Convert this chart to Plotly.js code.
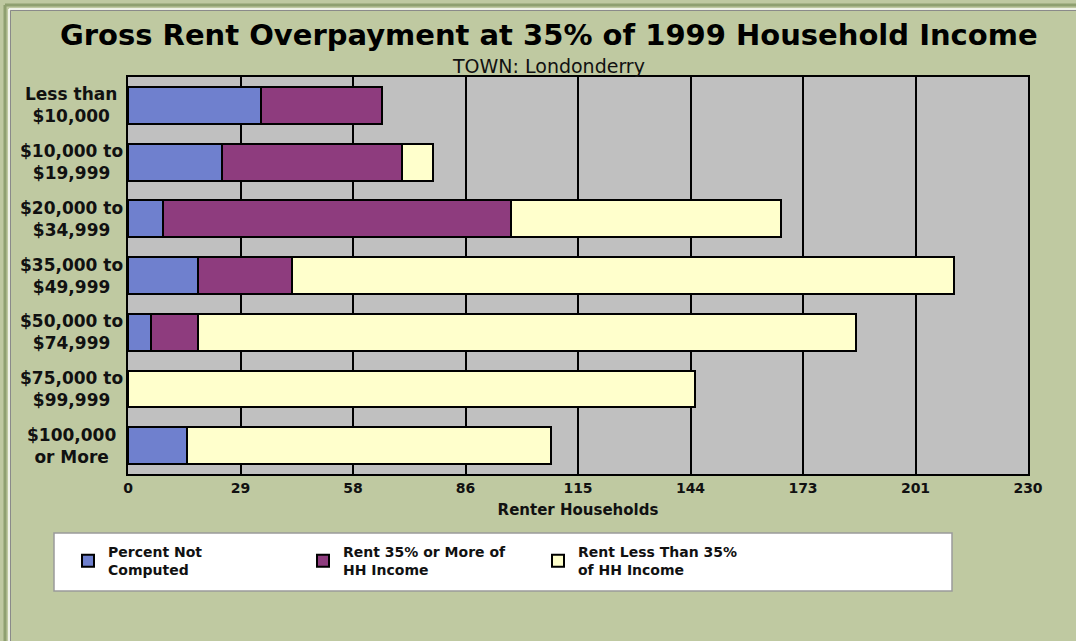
<!DOCTYPE html>
<html>
<head>
<meta charset="utf-8">
<script src="https://cdn.plot.ly/plotly-3.0.1.min.js"></script>
<style>
  html, body { margin: 0; padding: 0; background: #BFC9A1; }
  #chart { width: 1076px; height: 641px; }
</style>
</head>
<body>
<div id="chart"></div>
<script>
// ---- data ----
const categories = [
  "Less than<br>$10,000",
  "$10,000 to<br>$19,999",
  "$20,000 to<br>$34,999",
  "$35,000 to<br>$49,999",
  "$50,000 to<br>$74,999",
  "$75,000 to<br>$99,999",
  "$100,000<br>or More"
];
const notComputed = [34, 24, 9, 18, 6, 0, 15];
const rent35More  = [31, 46, 89, 24, 12, 0, 0];
const rentLess35  = [0, 8, 69, 169, 168, 145, 93];
const seriesNames = ["Percent Not<br>Computed", "Rent 35% or More of<br>HH Income", "Rent Less Than 35%<br>of HH Income"];
const tickVals = [0, 28.75, 57.5, 86.25, 115, 143.75, 172.5, 201.25, 230];
const tickText = ["0", "29", "58", "86", "115", "144", "173", "201", "230"];

// ---- layout helpers (pixel -> paper) ----
const W = 1076, H = 641;
const mL = 128, mR = 48, mT = 77, mB = 167;
const pw = W - mL - mR, ph = H - mT - mB;
const px = x => (x - mL) / pw;
const py = y => (H - mB - y) / ph;

const colors = ["#6F80CE", "#8E3C7E", "#FFFFCC"];
const vals = [notComputed, rent35More, rentLess35];

const traces = vals.map((v, i) => ({
  type: "bar",
  orientation: "h",
  y: categories,
  x: v,
  name: seriesNames[i],
  marker: { color: colors[i], line: { color: "#000000", width: 2 } },
  hoverinfo: "x+name"
}));

// centred category labels built from the categories array
const catLabels = categories.map(c => ({
  text: "<b>" + c + "</b>",
  xref: "paper", yref: "y",
  x: px(71), y: c,
  xanchor: "center", yanchor: "middle", align: "center",
  showarrow: false,
  font: { family: "DejaVu Sans", size: 17, color: "#111111" }
}));

const layout = {
  width: W, height: H,
  paper_bgcolor: "#BFC9A1",
  plot_bgcolor: "#C0C0C0",
  margin: { l: mL, r: mR, t: mT, b: mB, pad: 0 },
  barmode: "stack",
  bargap: 0.35,
  font: { family: "DejaVu Sans", color: "#111111" },
  title: {
    text: "<b>Gross Rent Overpayment at 35% of 1999 Household Income</b>",
    font: { family: "DejaVu Sans", size: 29, color: "#000000" },
    x: 0.51, xanchor: "center", y: 1 - 35 / H, yanchor: "middle"
  },
  xaxis: {
    range: [0, 230],
    tickvals: tickVals,
    ticktext: tickText,
    tickfont: { family: "DejaVu Sans", size: 14, color: "#111111", weight: "bold" },
    showgrid: true, gridcolor: "#000000", gridwidth: 2,
    zeroline: false,
    showline: true, linecolor: "#000000", linewidth: 2, mirror: true,
    ticks: "", ticklen: 0,
    title: { text: "<b>Renter Households</b>", font: { family: "DejaVu Sans", size: 15, color: "#111111" }, standoff: 10 },
    fixedrange: true
  },
  yaxis: {
    type: "category",
    autorange: "reversed",
    showticklabels: false,
    showgrid: false,
    showline: true, linecolor: "#000000", linewidth: 2, mirror: true,
    ticks: "",
    fixedrange: true
  },
  legend: {
    orientation: "h",
    x: px(68), xanchor: "left",
    y: py(536), yanchor: "top",
    bgcolor: "rgba(0,0,0,0)",
    borderwidth: 0,
    font: { family: "DejaVu Sans", size: 14, color: "#111111", weight: "bold" },
    entrywidth: 190, entrywidthmode: "pixels",
    traceorder: "normal",
    itemclick: false, itemdoubleclick: false
  },
  annotations: [{
    text: "TOWN: Londonderry",
    xref: "paper", yref: "paper",
    x: px(548), y: py(66), xanchor: "center", yanchor: "middle",
    showarrow: false,
    font: { family: "DejaVu Sans", size: 19, color: "#111111" }
  }].concat(catLabels),
  shapes: [
    // legend box
    { type: "rect", xref: "paper", yref: "paper", x0: px(54), x1: px(952), y0: py(591), y1: py(533),
      fillcolor: "#FFFFFF", line: { color: "#9A9A9A", width: 1.5 }, layer: "below" },
    // outer frame lines
    { type: "line", xref: "paper", yref: "paper", x0: px(5), x1: px(1076), y0: py(5), y1: py(5), line: { color: "#8FA070", width: 3 } },
    { type: "line", xref: "paper", yref: "paper", x0: px(5), x1: px(5), y0: py(5), y1: py(641), line: { color: "#8FA070", width: 3 } },
    { type: "line", xref: "paper", yref: "paper", x0: px(9), x1: px(1076), y0: py(9), y1: py(9), line: { color: "#FFFFFF", width: 1.5 } },
    { type: "line", xref: "paper", yref: "paper", x0: px(9), x1: px(9), y0: py(9), y1: py(641), line: { color: "#FFFFFF", width: 1.5 } },
    { type: "line", xref: "paper", yref: "paper", x0: px(10.5), x1: px(1076), y0: py(10.5), y1: py(10.5), line: { color: "#8A8A8A", width: 1 } },
    { type: "line", xref: "paper", yref: "paper", x0: px(10.5), x1: px(10.5), y0: py(10.5), y1: py(641), line: { color: "#8A8A8A", width: 1 } }
  ]
};

Plotly.newPlot("chart", traces, layout, { displayModeBar: false });
</script>
</body>
</html>
